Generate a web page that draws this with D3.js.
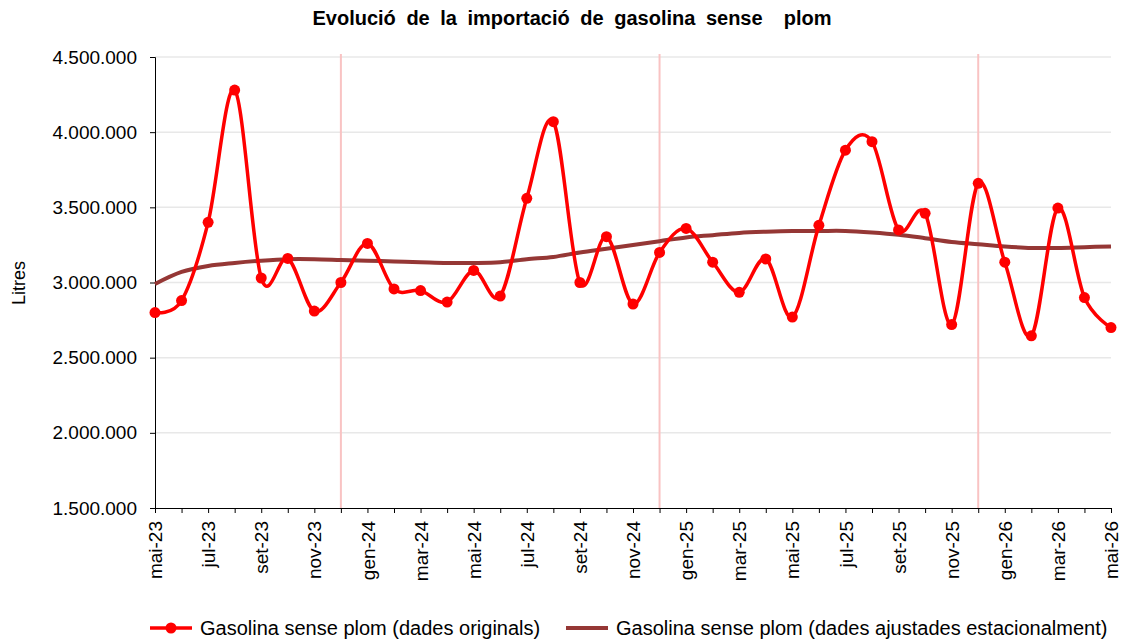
<!DOCTYPE html>
<html>
<head>
<meta charset="utf-8">
<script src="https://cdn.jsdelivr.net/npm/d3@7"></script>
<style>
  body { margin: 0; background: #fff; }
  svg { font-family: "Liberation Sans", Arial, sans-serif; }
</style>
</head>
<body>
<div class="chart"></div>
<script>
var months = ["mai-23","jun-23","jul-23","ago-23","set-23","oct-23","nov-23","des-23",
  "gen-24","feb-24","mar-24","abr-24","mai-24","jun-24","jul-24","ago-24","set-24","oct-24","nov-24","des-24",
  "gen-25","feb-25","mar-25","abr-25","mai-25","jun-25","jul-25","ago-25","set-25","oct-25","nov-25","des-25",
  "gen-26","feb-26","mar-26","abr-26","mai-26"];

var original = [2800000,2880000,3400000,4280000,3030000,3160000,2810000,3000000,
  3260000,2957000,2946000,2870000,3080000,2910000,3560000,4070000,3000000,3305000,2857000,3200000,
  3360000,3135000,2935000,3157000,2770000,3380000,3880000,3937000,3350000,3460000,2720000,3660000,
  3135000,2645000,3495000,2900000,2700000];

var adjusted = [2990000,3070000,3110000,3130000,3145000,3155000,3155000,3150000,
  3145000,3140000,3135000,3130000,3130000,3135000,3155000,3170000,3200000,3225000,3250000,3275000,
  3300000,3315000,3330000,3338000,3343000,3343000,3343000,3333000,3318000,3295000,3270000,3255000,
  3240000,3230000,3230000,3235000,3240000];

var yTicks = [1500000,2000000,2500000,3000000,3500000,4000000,4500000];
var yearBreaks = ["des-23","des-24","des-25"];

var width = 1126, height = 641;
var margin = {top: 57, left: 155, right: 15, bottom: 133};

var svg = d3.select(".chart").append("svg")
    .attr("width", width)
    .attr("height", height);

var x = d3.scalePoint().domain(months).range([margin.left, width - margin.right]);
var y = d3.scaleLinear().domain([1500000, 4500000]).range([height - margin.bottom, margin.top]);

var fmt = function(v) { return d3.format(",")(v).replace(/,/g, "."); };

// gridlines
svg.append("g").selectAll("line")
    .data(yTicks.slice(1))
    .enter().append("line")
    .attr("x1", margin.left).attr("x2", width - margin.right)
    .attr("y1", function(d) { return y(d); }).attr("y2", function(d) { return y(d); })
    .style("stroke", "#e8e8e8").style("stroke-width", 1.5);

// December markers
svg.append("g").selectAll("line")
    .data(yearBreaks)
    .enter().append("line")
    .attr("x1", function(d) { return x(d); }).attr("x2", function(d) { return x(d); })
    .attr("y1", margin.top - 3).attr("y2", height - margin.bottom)
    .style("stroke", "#f9c3c3").style("stroke-width", 2);

// axes
var yAxis = svg.append("g")
    .attr("transform", "translate(" + margin.left + ",0)")
    .call(d3.axisLeft(y).tickValues(yTicks).tickFormat(fmt).tickSize(5).tickPadding(13));
yAxis.selectAll("text").style("font-size", "19px").style("fill", "#000");
yAxis.select(".domain").style("stroke", "#000");

var xAxis = svg.append("g")
    .attr("transform", "translate(0," + (height - margin.bottom) + ")")
    .call(d3.axisBottom(x).tickSize(5).tickFormat(function(d, i) { return i % 2 === 0 ? d : ""; }));
xAxis.select(".domain").style("stroke", "#000");
xAxis.selectAll("text")
    .style("font-size", "19px")
    .style("fill", "#000")
    .attr("text-anchor", "end")
    .attr("transform", "rotate(-90)")
    .attr("x", -13)
    .attr("y", 0)
    .attr("dy", "0.35em");

var line = d3.line()
    .x(function(d, i) { return x(months[i]); })
    .y(function(d) { return y(d); })
    .curve(d3.curveCardinal.tension(0));

svg.append("path")
    .datum(adjusted)
    .attr("d", line)
    .style("fill", "none")
    .style("stroke", "#953735")
    .style("stroke-width", 4);

svg.append("path")
    .datum(original)
    .attr("d", line)
    .style("fill", "none")
    .style("stroke", "#ff0000")
    .style("stroke-width", 3.5);

svg.append("g").selectAll("circle")
    .data(original)
    .enter().append("circle")
    .attr("cx", function(d, i) { return x(months[i]); })
    .attr("cy", function(d) { return y(d); })
    .attr("r", 5.5)
    .style("fill", "#ff0000");

// title
svg.append("text")
    .attr("x", 572).attr("y", 25)
    .attr("text-anchor", "middle")
    .style("font-size", "20px")
    .style("font-weight", "bold")
    .style("word-spacing", "5px")
    .style("white-space", "pre")
    .text("Evolució de la importació de gasolina sense  plom");

svg.append("text")
    .attr("transform", "translate(25,283) rotate(-90)")
    .attr("text-anchor", "middle")
    .style("font-size", "18px")
    .text("Litres");

// legend
var legend = [
  {name: "Gasolina sense plom (dades originals)", color: "#ff0000", x: 150, dot: true, w: 3.5},
  {name: "Gasolina sense plom (dades ajustades estacionalment)", color: "#953735", x: 566, dot: false, w: 4}
];
var lg = svg.selectAll("g.legend").data(legend).enter().append("g")
    .attr("class", "legend")
    .attr("transform", function(d) { return "translate(" + d.x + ",628)"; });
lg.append("line")
    .attr("x1", 0).attr("x2", 42)
    .style("stroke", function(d) { return d.color; })
    .style("stroke-width", function(d) { return d.w; });
lg.filter(function(d) { return d.dot; }).append("circle")
    .attr("cx", 21).attr("r", 5.5)
    .style("fill", function(d) { return d.color; });
lg.append("text")
    .attr("x", 50).attr("dy", "0.35em")
    .style("font-size", "20px")
    .text(function(d) { return d.name; });
</script>
</body>
</html>
